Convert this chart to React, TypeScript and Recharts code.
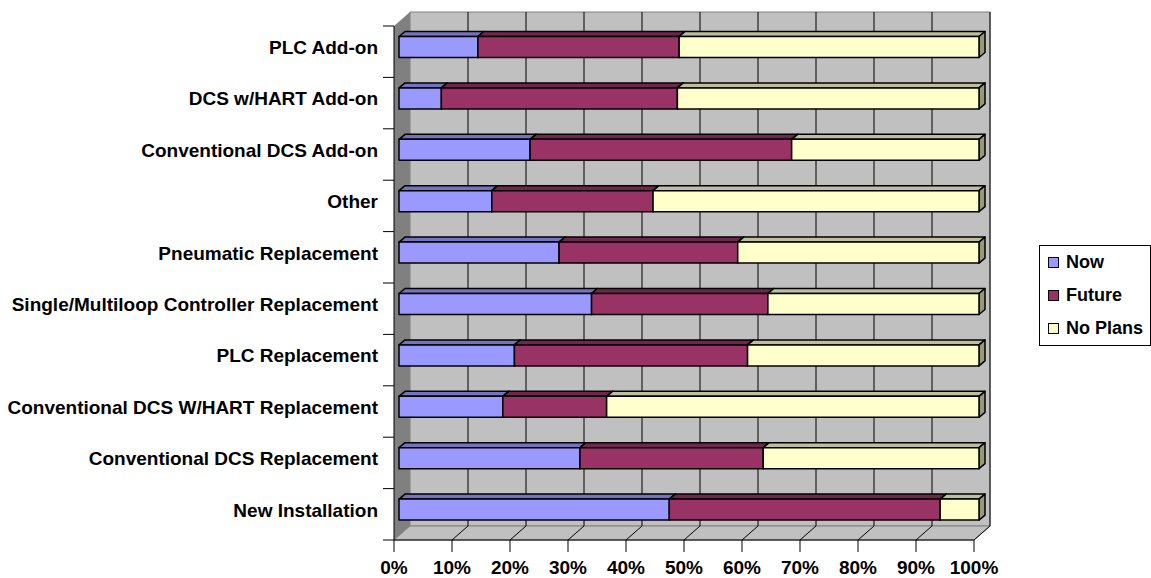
import React from 'react';
import {
  BarChart, Bar, XAxis, YAxis, CartesianGrid, ReferenceArea, Legend,
} from 'recharts';

const categories = [
  'PLC Add-on',
  'DCS w/HART Add-on',
  'Conventional DCS Add-on',
  'Other',
  'Pneumatic Replacement',
  'Single/Multiloop Controller Replacement',
  'PLC Replacement',
  'Conventional DCS W/HART Replacement',
  'Conventional DCS Replacement',
  'New Installation',
];
const seriesNames = ['Now', 'Future', 'No Plans'];
const nowPct = [13.6, 7.3, 22.6, 16.0, 27.6, 33.2, 19.9, 17.9, 31.2, 46.6];
const futurePct = [34.7, 40.7, 45.1, 27.8, 30.8, 30.4, 40.2, 17.9, 31.6, 46.7];
const noPlansPct = [51.7, 52.0, 32.3, 56.2, 41.6, 36.4, 39.9, 64.2, 37.2, 6.7];
const xTicks = [0, 10, 20, 30, 40, 50, 60, 70, 80, 90, 100];

const data = categories.map((name, i) => ({
  name,
  now: nowPct[i],
  future: futurePct[i],
  noPlans: noPlansPct[i],
}));

const FONT = '"Liberation Sans", Arial, Helvetica, sans-serif';

// depth of the back wall and of the bars, in px
const WALL_DX = 16;
const WALL_DY = 14;
const BAR_SHIFT_X = 5;
const BAR_SHIFT_Y = -4.5;
const BAR_DX = 6;
const BAR_DY = 5;

const Wall = (props: any) => {
  const { x, y, width, height } = props;
  const bx = x + WALL_DX;
  const by = y - WALL_DY;
  const bottom = y + height;
  const n = categories.length;
  return (
    <g>
      <polygon
        points={`${x},${y} ${bx},${by} ${bx},${bottom - WALL_DY} ${x},${bottom}`}
        fill="#808080"
      />
      <rect x={bx} y={by} width={width} height={height} fill="#C0C0C0" stroke="#808080" />
      <polygon
        points={`${x},${bottom} ${bx},${bottom - WALL_DY} ${bx + width},${bottom - WALL_DY} ${x + width},${bottom}`}
        fill="#C0C0C0"
        stroke="#808080"
      />
      {Array.from({ length: n + 1 }, (_, i) => (
        <line
          key={i}
          x1={x - 11}
          x2={x}
          y1={y + (i * height) / n}
          y2={y + (i * height) / n}
          stroke="#000"
        />
      ))}
    </g>
  );
};

const gridLine = (p: any) => {
  const { x1, y1, y2, index } = p;
  if (index === 0 || index === xTicks.length - 1) return <g key={`g-${index}`} />;
  return (
    <g key={`g-${index}`}>
      <line x1={x1 + WALL_DX} x2={x1 + WALL_DX} y1={y1 - WALL_DY} y2={y2 - WALL_DY} stroke="#000" />
      <line x1={x1} y1={y2} x2={x1 + WALL_DX} y2={y2 - WALL_DY} stroke="#000" />
    </g>
  );
};

const Block = (props: any) => {
  const { x, y, width, height, fill, topFill, sideFill } = props;
  if (!width || width <= 0) return null;
  const fx = x + BAR_SHIFT_X;
  const fy = y + BAR_SHIFT_Y;
  const r = fx + width;
  return (
    <g stroke="#000" strokeWidth={1.5} strokeLinejoin="round">
      <polygon
        points={`${fx},${fy} ${fx + BAR_DX},${fy - BAR_DY} ${r + BAR_DX},${fy - BAR_DY} ${r},${fy}`}
        fill={topFill}
      />
      <polygon
        points={`${r},${fy} ${r + BAR_DX},${fy - BAR_DY} ${r + BAR_DX},${fy + height - BAR_DY} ${r},${fy + height}`}
        fill={sideFill}
      />
      <rect x={fx} y={fy} width={width} height={height} fill={fill} />
    </g>
  );
};

const CategoryTick = (props: any) => {
  const { x, y, payload } = props;
  return (
    <text
      x={x}
      y={y + BAR_SHIFT_Y}
      dy="0.355em"
      textAnchor="end"
      fontFamily={FONT}
      fontWeight="bold"
      fontSize={19}
      fill="#000"
    >
      {payload.value}
    </text>
  );
};

const LegendBox = (props: any) => {
  const items = [...(props.payload || [])].sort(
    (a: any, b: any) => seriesNames.indexOf(a.value) - seriesNames.indexOf(b.value),
  );
  return (
    <div
      style={{
        border: '1px solid #000',
        background: '#fff',
        paddingLeft: 8,
        fontFamily: FONT,
        fontWeight: 'bold',
        fontSize: 18,
        color: '#000',
        boxSizing: 'border-box',
      }}
    >
      {items.map((item: any) => (
        <div key={item.value} style={{ display: 'flex', alignItems: 'center', height: 33 }}>
          <span
            style={{
              display: 'inline-block',
              width: 9,
              height: 9,
              border: '1px solid #000',
              background: item.color,
              marginRight: 7,
            }}
          />
          {item.value}
        </div>
      ))}
    </div>
  );
};

export default function App() {
  return (
    <div style={{ position: 'absolute', left: 0, top: 0, background: '#fff' }}>
      <BarChart
        width={1151}
        height={578}
        data={data}
        layout="vertical"
        margin={{ top: 26, right: 177, bottom: 0, left: 0 }}
      >
        <ReferenceArea x1={0} x2={100} shape={Wall} zIndex={-200} ifOverflow="visible" />
        <CartesianGrid horizontal={false} vertical={gridLine} />
        <XAxis
          type="number"
          domain={[0, 100]}
          ticks={xTicks}
          interval={0}
          tickFormatter={(v: number) => `${v}%`}
          height={38}
          tickSize={12}
          tickMargin={9}
          axisLine={{ stroke: '#000' }}
          tickLine={{ stroke: '#000' }}
          tick={{ fill: '#000', fontSize: 19, fontWeight: 'bold', fontFamily: FONT }}
        />
        <YAxis
          type="category"
          dataKey="name"
          width={394}
          interval={0}
          tickSize={0}
          tickMargin={16}
          tickLine={false}
          axisLine={{ stroke: '#000' }}
          tick={CategoryTick}
        />
        <Bar
          dataKey="now"
          name={seriesNames[0]}
          stackId="s"
          fill="#9999FF"
          barSize={21}
          isAnimationActive={false}
          shape={(p: any) => <Block {...p} topFill="#7373BF" sideFill="#5C5C99" />}
        />
        <Bar
          dataKey="future"
          name={seriesNames[1]}
          stackId="s"
          fill="#993366"
          barSize={21}
          isAnimationActive={false}
          shape={(p: any) => <Block {...p} topFill="#73264D" sideFill="#5C1F3D" />}
        />
        <Bar
          dataKey="noPlans"
          name={seriesNames[2]}
          stackId="s"
          fill="#FFFFCC"
          barSize={21}
          isAnimationActive={false}
          shape={(p: any) => <Block {...p} topFill="#BFBF99" sideFill="#999979" />}
        />
        <Legend
          layout="horizontal"
          align="center"
          verticalAlign="middle"
          itemSorter={null}
          content={LegendBox}
          wrapperStyle={{ position: 'absolute', left: 1039, top: 245, width: 112 }}
        />
      </BarChart>
    </div>
  );
}
